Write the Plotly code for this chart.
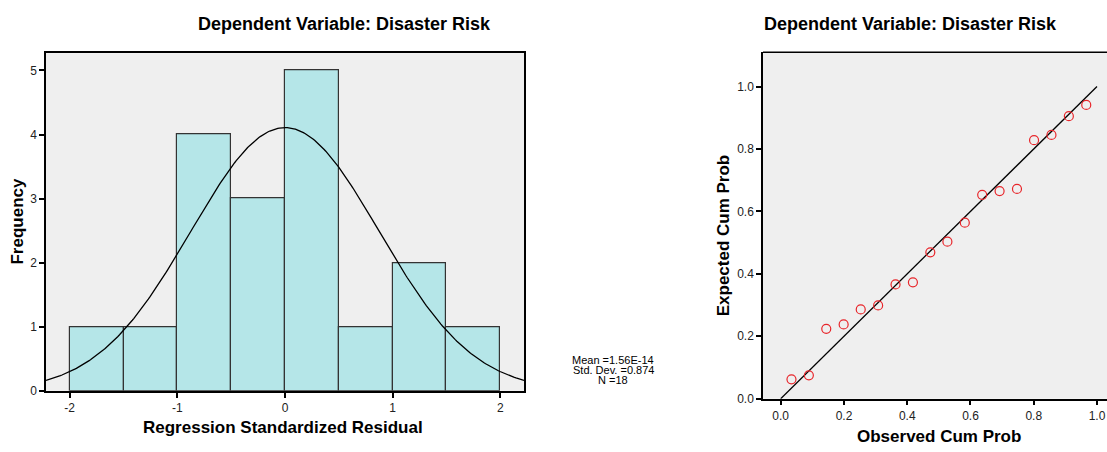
import numpy as np
import plotly.graph_objects as go

# ---- Data ----
bin_left = [-2.0, -1.5, -1.0, -0.5, 0.0, 0.5, 1.0, 1.5]
bin_width = 0.5
counts = [1, 1, 4, 3, 5, 1, 2, 1]
mean_val = 1.56e-14
sd_val = 0.874
n_val = 18

observed = [0.034, 0.089, 0.144, 0.199, 0.253, 0.308, 0.363, 0.418, 0.473,
            0.527, 0.582, 0.637, 0.692, 0.747, 0.801, 0.856, 0.911, 0.966]
expected = [0.062, 0.075, 0.224, 0.238, 0.286, 0.299, 0.366, 0.373, 0.469,
            0.503, 0.564, 0.653, 0.665, 0.672, 0.828, 0.845, 0.905, 0.941]

x_ticks_hist = [-2, -1, 0, 1, 2]
y_ticks_hist = [0, 1, 2, 3, 4, 5]
pp_ticks = [0.0, 0.2, 0.4, 0.6, 0.8, 1.0]

title_text = "Dependent Variable: Disaster Risk"
stats_lines = ["Mean =1.56E-14", "Std. Dev. =0.874", "N =18"]

W, H = 1107, 452
FONT = "Liberation Sans, Arial, sans-serif"


def px_x(p):
    return p / W


def px_y(p):
    return 1 - p / H


fig = go.Figure()

# Histogram bars
centers = [b + bin_width / 2 for b in bin_left]
fig.add_trace(go.Bar(
    x=centers, y=counts, width=bin_width,
    marker=dict(color="#b5e6e8", line=dict(color="#333333", width=1.2)),
    xaxis="x", yaxis="y", showlegend=False, hoverinfo="skip"))

# Normal curve from the stated mean / sd / N
xs = np.linspace(-2.22, 2.22, 300)
ys = n_val * bin_width / (sd_val * np.sqrt(2 * np.pi)) * np.exp(-0.5 * ((xs - mean_val) / sd_val) ** 2)
fig.add_trace(go.Scatter(x=xs, y=ys, mode="lines", line=dict(color="black", width=1.3),
                         xaxis="x", yaxis="y", showlegend=False, hoverinfo="skip"))

# P-P plot
fig.add_trace(go.Scatter(x=[0, 1], y=[0, 1], mode="lines", line=dict(color="black", width=1.3),
                         xaxis="x2", yaxis="y2", showlegend=False, hoverinfo="skip"))
fig.add_trace(go.Scatter(x=observed, y=expected, mode="markers",
                         marker=dict(symbol="circle-open", size=9, color="#e8262b", line=dict(width=1.2)),
                         xaxis="x2", yaxis="y2", showlegend=False))

axis_common = dict(showgrid=False, zeroline=False, ticks="outside", ticklen=5, tickwidth=1.5,
                   tickcolor="black", linecolor="black", linewidth=1.5,
                   tickfont=dict(family=FONT, size=12, color="#222"))

fig.update_layout(
    width=W, height=H,
    margin=dict(l=0, r=0, t=0, b=0),
    paper_bgcolor="white", plot_bgcolor="#efefef",
    bargap=0,
    xaxis=dict(domain=[px_x(46), px_x(524)], range=[-2.22, 2.22],
               tickvals=x_ticks_hist, ticktext=[str(v) for v in x_ticks_hist],
               showline=True, mirror=True, anchor="y", **axis_common),
    yaxis=dict(domain=[px_y(397), px_y(54)], range=[0, 5.27],
               tickvals=y_ticks_hist,
               showline=True, mirror=True, anchor="x", **axis_common),
    xaxis2=dict(domain=[px_x(763), 1.0], range=[-0.056, 1.0316],
                tickvals=pp_ticks, tickformat=".1f",
                showline=True, mirror=False, anchor="y2", **axis_common),
    yaxis2=dict(domain=[px_y(405), px_y(53)], range=[0, 1.11],
                tickvals=pp_ticks, tickformat=".1f",
                showline=True, mirror=False, anchor="x2", **axis_common),
)

# top border of right plot (its right side is cut off by the page edge)
fig.add_shape(type="line", xref="x2 domain", yref="y2 domain", x0=0, x1=1, y0=1, y1=1,
              line=dict(color="black", width=1.5))


def label(x, y, text, size, angle=0, bold=True):
    fig.add_annotation(x=px_x(x), y=px_y(y), xref="paper", yref="paper",
                       xanchor="center", yanchor="middle", textangle=angle,
                       text=("<b>%s</b>" % text) if bold else text, showarrow=False,
                       font=dict(family=FONT, size=size, color="black"))


# Titles
label(344.5, 24, title_text, 18)
label(910, 24, title_text, 18)

# Axis titles
label(283, 434, "Regression Standardized Residual", 17)
label(18, 225, "Frequency", 17, angle=-90)
label(939, 443, "Observed Cum Prob", 17)
label(723, 239, "Expected Cum Prob", 17, angle=-90)

# Stats text
for i, line in enumerate(stats_lines):
    label(613, 366 + 9.8 * i, line, 11, bold=False)

fig.write_html(
    "out.html",
    config={"displayModeBar": False},
    post_script="document.documentElement.style.margin='0';document.body.style.margin='0';"
                "document.body.style.overflow='hidden';",
)
